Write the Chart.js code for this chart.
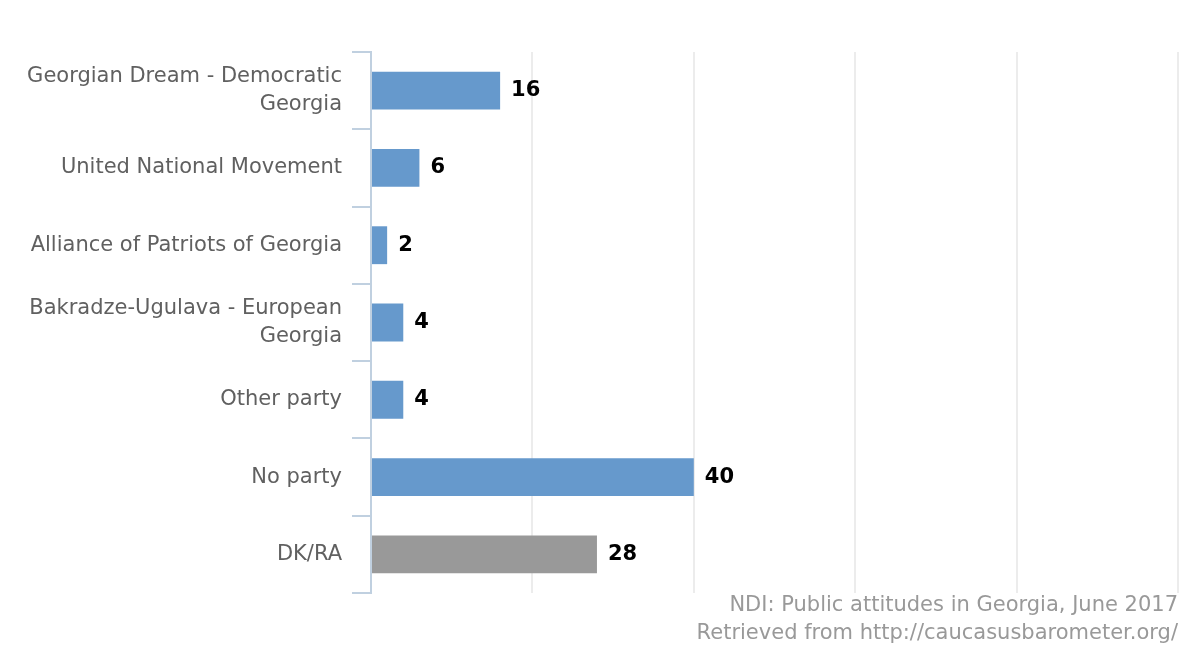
<!DOCTYPE html>
<html>
<head>
<meta charset="utf-8">
<script src="https://cdn.jsdelivr.net/npm/chart.js@4.4.0/dist/chart.umd.min.js"></script>
<style>
  html, body { margin: 0; padding: 0; background: #fff; }
  #wrap { position: relative; width: 1200px; height: 663px; }
  .credits {
    position: absolute; right: 22px; top: 590px; text-align: right;
    font-family: "DejaVu Sans", sans-serif; font-size: 21px; line-height: 28px; color: #999;
  }
</style>
</head>
<body>
<div id="wrap">
  <canvas id="chart" width="1200" height="663"></canvas>
  <div class="credits">NDI: Public attitudes in Georgia, June 2017<br>Retrieved from http://caucasusbarometer.org/</div>
</div>
<script>
const categories = [
  ['Georgian Dream - Democratic', 'Georgia'],
  'United National Movement',
  'Alliance of Patriots of Georgia',
  ['Bakradze-Ugulava - European', 'Georgia'],
  'Other party',
  'No party',
  'DK/RA'
];
const values = [16, 6, 2, 4, 4, 40, 28];
const barColors = ['#6699CC', '#6699CC', '#6699CC', '#6699CC', '#6699CC', '#6699CC', '#999999'];

const FONT = '"DejaVu Sans", sans-serif';

const valueLabels = {
  id: 'valueLabels',
  afterDatasetsDraw(chart) {
    const ctx = chart.ctx;
    const meta = chart.getDatasetMeta(0);
    ctx.save();
    ctx.font = 'bold 21px ' + FONT;
    ctx.fillStyle = '#000';
    ctx.textAlign = 'left';
    ctx.textBaseline = 'middle';
    meta.data.forEach((bar, i) => {
      ctx.fillText(String(values[i]), bar.x + 11, bar.y);
    });
    ctx.restore();
  }
};

new Chart(document.getElementById('chart'), {
  type: 'bar',
  data: {
    labels: categories,
    datasets: [{
      data: values,
      backgroundColor: barColors,
      categoryPercentage: 1,
      barPercentage: 0.49
    }]
  },
  options: {
    indexAxis: 'y',
    responsive: false,
    animation: false,
    layout: { padding: { top: 52, right: 22, bottom: 70, left: 0 } },
    plugins: { legend: { display: false }, tooltip: { enabled: false } },
    scales: {
      x: {
        min: 0, max: 100,
        ticks: { display: false, stepSize: 20 },
        grid: { color: '#ececec', lineWidth: 2, drawTicks: false },
        border: { display: false },
        afterFit(scale) { scale.height = 0; }
      },
      y: {
        grid: {
          offset: true,
          drawOnChartArea: false,
          tickLength: 19,
          color: '#C0D0E0',
          lineWidth: 2
        },
        border: { display: true, color: '#C0D0E0', width: 2 },
        ticks: {
          color: '#606060',
          padding: 10,
          font: { family: FONT, size: 21, lineHeight: 1.33 }
        },
        afterFit(scale) { scale.width = 371; }
      }
    }
  },
  plugins: [valueLabels]
});
</script>
</body>
</html>
